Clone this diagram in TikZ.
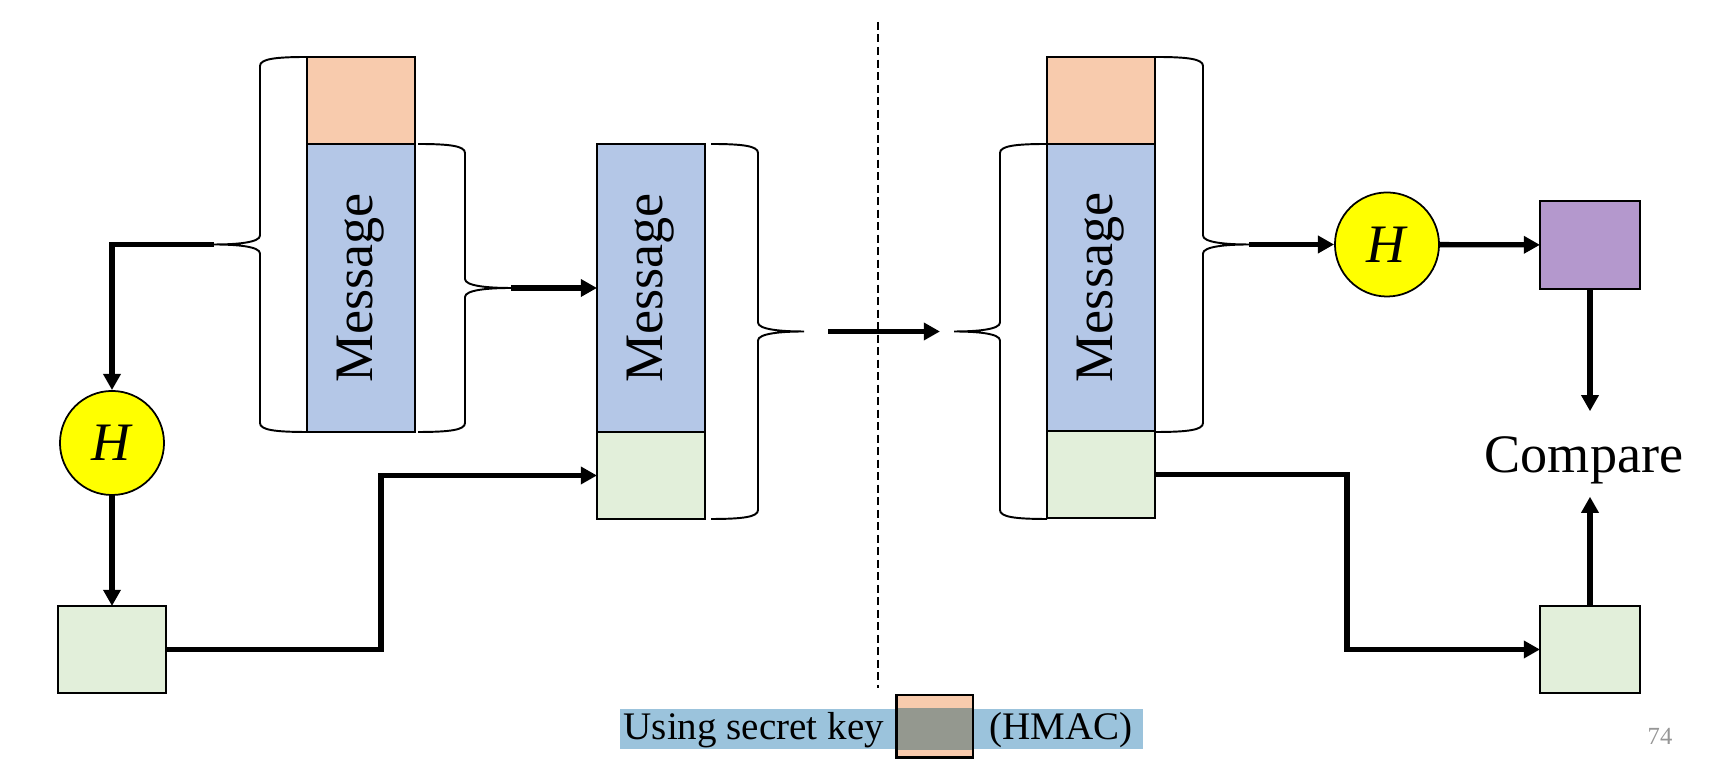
\documentclass[tikz,border=0pt]{standalone}
\usepackage{fontspec}
\usepackage{graphicx}
\setmainfont{Liberation Serif}
\usetikzlibrary{arrows.meta}

\definecolor{keyorange}{RGB}{248,203,173}
\definecolor{msgblue}{RGB}{180,199,231}
\definecolor{macgreen}{RGB}{226,239,218}
\definecolor{hashyellow}{RGB}{255,255,0}
\definecolor{digestpurple}{RGB}{180,152,205}
\definecolor{bandblue}{RGB}{155,195,220}
\definecolor{overlapgrey}{RGB}{148,152,143}
\definecolor{pagegrey}{RGB}{150,150,150}

\newcommand{\bigfont}{\fontsize{15.4}{18}\selectfont}
\newcommand{\legfont}{\fontsize{11.1}{13}\selectfont}

% curly brace opening to the left: name, box edge x, top y, bottom y
\newcommand{\bracel}[4]{%
  \draw[brc] (#2,#3) .. controls ({#2-32},#3) and ({#2-47},{#3+2}) .. ({#2-47},{#3+9})
    -- ({#2-47},{(#3+#4)/2-9}) .. controls ({#2-47},{(#3+#4)/2-2}) and ({#2-70},{(#3+#4)/2}) .. ({#2-93},{(#3+#4)/2})
    .. controls ({#2-70},{(#3+#4)/2}) and ({#2-47},{(#3+#4)/2+2}) .. ({#2-47},{(#3+#4)/2+9})
    -- ({#2-47},{#4-9}) .. controls ({#2-47},{#4-2}) and ({#2-32},#4) .. (#2,#4);
  \coordinate (#1) at ({#2-93},{(#3+#4)/2});}
% curly brace opening to the right
\newcommand{\bracer}[4]{%
  \draw[brc] (#2,#3) .. controls ({#2+32},#3) and ({#2+47},{#3+2}) .. ({#2+47},{#3+9})
    -- ({#2+47},{(#3+#4)/2-9}) .. controls ({#2+47},{(#3+#4)/2-2}) and ({#2+70},{(#3+#4)/2}) .. ({#2+93},{(#3+#4)/2})
    .. controls ({#2+70},{(#3+#4)/2}) and ({#2+47},{(#3+#4)/2+2}) .. ({#2+47},{(#3+#4)/2+9})
    -- ({#2+47},{#4-9}) .. controls ({#2+47},{#4-2}) and ({#2+32},#4) .. (#2,#4);
  \coordinate (#1) at ({#2+93},{(#3+#4)/2});}

\begin{document}
\begin{tikzpicture}[x=0.01cm,y=-0.01cm,
    part/.style={draw,line width=0.5pt,inner sep=0pt,outer sep=0pt,minimum width=1.08cm},
    hashnode/.style={draw,circle,line width=0.5pt,fill=hashyellow,minimum size=1.04cm,inner sep=0pt,font=\bigfont},
    brc/.style={line width=0.55pt},
    conn/.style={line width=1.5pt,-{Triangle[length=4.6pt,width=4.8pt]}}]
  \useasboundingbox (0,0) rectangle (1717,768);

  % sender side
  \node[part,fill=keyorange,minimum height=0.87cm] (key1) at (361,100.5) {};
  \node[part,fill=msgblue,minimum height=2.88cm,font=\bigfont] (msg1) at (361,288) {\rotatebox{90}{Message}};
  \node[hashnode] (hash1) at (112,443) {\textit{H}};
  \node[part,fill=macgreen,minimum height=0.87cm] (mac1) at (112,649.5) {};
  \node[part,fill=msgblue,minimum height=2.88cm,font=\bigfont] (msg2) at (651,288) {\rotatebox{90}{Message}};
  \node[part,fill=macgreen,minimum height=0.87cm] (mac2) at (651,475.5) {};

  \bracel{ba}{307}{57}{432}
  \bracer{bb}{418}{144}{432}
  \bracer{bc}{711}{144}{519}

  \draw[conn] (ba) -| (hash1);
  \draw[conn] (hash1) -- (mac1);
  \draw[conn] (mac1.east) -- ++(215,0) |- (mac2.west);
  \draw[conn] (bb) -- (msg2.west);

  % divider
  \coordinate (divtop) at (878,22);
  \coordinate (divbot) at (878,688);
  \draw[line width=0.5pt,dash pattern=on 0.08cm off 0.045cm] (divtop) -- (divbot);

  % receiver side
  \node[part,fill=keyorange,minimum height=0.87cm] (key3) at (1101,100.5) {};
  \node[part,fill=msgblue,minimum height=2.87cm,font=\bigfont] (msg3) at (1101,287.5) {\rotatebox{90}{Message}};
  \node[part,fill=macgreen,minimum height=0.87cm] (mac3) at (1101,474.5) {};
  \node[hashnode] (hash2) at (1387,244.5) {\textit{H}};
  \node[part,fill=digestpurple,minimum width=1cm,minimum height=0.88cm] (digest) at (1590,245) {};
  \node[part,fill=macgreen,minimum width=1cm,minimum height=0.87cm] (mac4) at (1590,649.5) {};
  \node[font=\bigfont,inner sep=0pt,text height=0.61cm,text depth=0.23cm,anchor=base] (cmp) at (1584,473) {Compare};

  \bracel{bd}{1047}{144}{519}
  \bracer{be}{1156}{57}{432}

  \draw[conn,shorten <=0.24cm,shorten >=0.14cm] (bc) -- (bd);
  \draw[conn] (be) -- (hash2);
  \draw[conn] (hash2) -- (digest);
  \draw[conn] (digest) -- (digest |- cmp.north);
  \draw[conn] (mac4) -- (mac4 |- cmp.south);
  \draw[conn] (mac3.east) -- ++(192,0) |- (mac4.west);

  % legend
  \node[fill=bandblue,minimum width=5.225cm,minimum height=0.4cm,inner sep=0pt] (band) at (881.25,729) {};
  \node[font=\legfont,anchor=base west,inner sep=0pt] (keytxt) at (623,740) {Using secret key};
  \node[font=\legfont,anchor=base west,inner sep=0pt] (hmac) at (989,740) {(HMAC)};
  \node[fill=keyorange,minimum width=0.75cm,minimum height=0.61cm,inner sep=0pt] (keybox) at (934.5,726.5) {};
  \fill[overlapgrey] (keybox.west |- band.north) rectangle (keybox.east |- band.south);
  \draw[line width=0.7pt] (keybox.north west) rectangle (keybox.south east);

  \node[font=\fontsize{7}{8}\selectfont,text=pagegrey,anchor=base] (pgno) at (1660,745) {74};
\end{tikzpicture}
\end{document}
